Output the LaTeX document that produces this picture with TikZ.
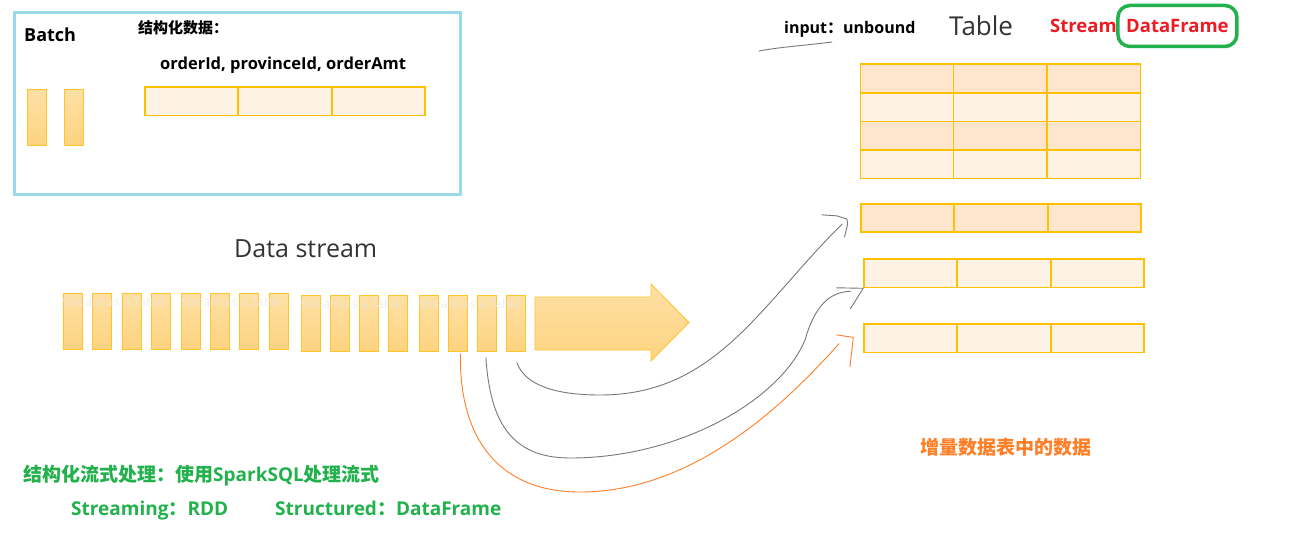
\documentclass[tikz,border=0pt]{standalone}
\usepackage{fontspec}
\setmainfont{Open Sans}
\newfontfamily\cjk{Noto Sans CJK SC}
\usetikzlibrary{calc}
\definecolor{batchblue}{RGB}{153,217,234}
\definecolor{bartop}{RGB}{254,224,165}
\definecolor{barbot}{RGB}{253,211,128}
\definecolor{barline}{RGB}{255,197,40}
\definecolor{tabline}{RGB}{255,192,0}
\definecolor{celldark}{RGB}{253,230,203}
\definecolor{celllight}{RGB}{254,242,228}
\definecolor{curvegray}{RGB}{120,120,120}
\definecolor{curveorange}{RGB}{255,127,39}
\definecolor{txtred}{RGB}{237,28,36}
\definecolor{txtgreen}{RGB}{34,177,76}
\definecolor{txtorange}{RGB}{255,127,39}
\newcommand\fsz[1]{\fontsize{#1}{#1}\selectfont}
\newcommand\rowdiv[1]{%
  \draw[tabline,line width=1.8pt] ($(#1.north west)!0.3333!(#1.north east)$) -- ($(#1.south west)!0.3333!(#1.south east)$);
  \draw[tabline,line width=1.8pt] ($(#1.north west)!0.6667!(#1.north east)$) -- ($(#1.south west)!0.6667!(#1.south east)$);}
\begin{document}
\begin{tikzpicture}[x=1pt,y=-1pt,
  bar/.style={draw=barline,line width=0.8pt,top color=bartop,bottom color=barbot,minimum width=19pt,minimum height=56pt,inner sep=0pt,anchor=north west},
  rowbox/.style={draw=tabline,line width=1.8pt,minimum width=280pt,minimum height=28.5pt,inner sep=0pt,anchor=north west},
  lbl/.style={inner sep=0pt,anchor=west},
  blbl/.style={inner sep=0pt,anchor=base west},
  ghosttxt/.style={inner sep=0pt,text=black!9,text opacity=0.7,font=\fsz{12.5}},
  gcurve/.style={draw=curvegray,line width=0.9pt,line join=round,line cap=round},
  ocurve/.style={draw=curveorange,line width=0.9pt,line join=round,line cap=round},
]
\useasboundingbox (0,0) rectangle (1308,535);
\fill[white] (0,0) rectangle (1308,535);

% Batch box
\node[draw=batchblue,line width=3pt,minimum width=446pt,minimum height=181pt,inner sep=0pt,anchor=north west] (batchbox) at (12.5,11.5) {};
\node[lbl,font=\bfseries\fsz{18}] (batch) at (24,35) {Batch};
\node[lbl,font=\cjk\bfseries\fsz{15}] (sdata) at (138,28) {结构化数据：};
\node[lbl,font=\bfseries\fsz{16.5}] (fields) at (160,65.5) {orderId, provinceId, orderAmt};
\node[rowbox,fill=celllight] (br) at (144,86) {};
\rowdiv{br}
\node[bar] (bb1) at (27.3,89.3) {};
\node[bar] (bb2) at (64,89.3) {};

% Data stream
\node[lbl,font=\fsz{25},text=black!80] (dstitle) at (234,249) {Data stream};
\foreach \i/\x in {1/62.5,2/92,3/121.5,4/150.6,5/181,6/210,7/239,8/268.5}
  \node[bar] (b\i) at (\x,293) {};
\foreach \i/\x in {9/300.6,10/330,11/359,12/388,13/418.6,14/448,15/477,16/506}
  \node[bar] (b\i) at (\x,295) {};
\draw[draw=barline,line width=0.8pt,top color=bartop,bottom color=barbot]
  (535,297) -- (651,297) -- (651,284) -- (689,322.5) -- (651,361) -- (651,350) -- (535,350) -- cycle;
\node[ghosttxt] (g1) at (113,302) {Stream as a Table};
\node[ghosttxt] (g2) at (231,302) {Stream as a Table};
\node[ghosttxt] (g3) at (351,303.5) {Stream as a Table};
\node[ghosttxt] (g4) at (469,303.5) {Stream as a Table};

% Top right titles
\draw[gcurve] (759,51) .. controls (780,47) and (800,46) .. (832,42);
\node[lbl,font=\bfseries\fsz{16}] (inp) at (784,29) {input{\cjk ：}unbound};
\node[lbl,font=\fsz{26},text=black!80] (tabletitle) at (949,26) {Table};
\node[lbl,font=\bfseries\fsz{18.5},text=txtred] (stream) at (1050,26) {Stream};
\node[draw=txtgreen,line width=3.5pt,rounded corners=12pt,minimum width=119pt,minimum height=41pt,font=\bfseries\fsz{18.5},text=txtred,inner sep=0pt] (df) at (1177.4,26) {DataFrame};

% Table
\node[rowbox,fill=celldark] (t1) at (859.5,63.5) {};
\node[rowbox,fill=celllight] (t2) at (859.5,92) {};
\node[rowbox,fill=celldark] (t3) at (859.5,120.5) {};
\node[rowbox,fill=celllight] (t4) at (859.5,149) {};
\rowdiv{t1}\rowdiv{t2}\rowdiv{t3}\rowdiv{t4}

% Incremental rows
\node[rowbox,fill=celldark] (rA) at (860.3,202.7) {};
\node[rowbox,fill=celllight] (rB) at (863.3,258) {};
\node[rowbox,fill=celllight] (rC) at (863.3,323) {};
\rowdiv{rA}\rowdiv{rB}\rowdiv{rC}
\node[lbl,font=\cjk\bfseries\fsz{19},text=txtorange] (inc) at (920,447) {增量数据表中的数据};

% Curves
\coordinate (c1s) at ($(b16.south)+(1,11)$);
\coordinate (c1e) at ($(rA.west)+(-18,6)$);
\draw[gcurve] (c1s) .. controls (525,385) and (555,395) .. (600,395) .. controls (716,395) and (760,305) .. (c1e);
\draw[gcurve] ($(c1e)+(-20.3,-9)$) -- ($(c1e)+(-5.3,-8)$) -- ($(c1e)+(4.7,-4.7)$) -- ($(c1e)+(5.3,0.3)$) -- ($(c1e)+(2.3,13)$);

\coordinate (c2s) at ($(b15.south)+(-1,6)$);
\coordinate (c2e) at ($(rB.south west)+(-13,3)$);
\draw[gcurve] (c2s) .. controls (490,420) and (510,458) .. (570,458) .. controls (680,458) and (780,400) .. (805,340) .. controls (815,305) and (830,292) .. (c2e);
\draw[gcurve] ($(rB.south west)+(-26.6,-0.5)$) -- (rB.south west) -- ($(rB.south west)+(-13,20.5)$);

\coordinate (c3s) at ($(b14.south)+(2.5,2)$);
\coordinate (c3e) at ($(rC.west)+(-24.3,5.5)$);
\draw[ocurve] (c3s) .. controls (459,440) and (500,492) .. (580,492) .. controls (690,492) and (780,410) .. (c3e);
\draw[ocurve] ($(c3e)+(-2.3,-8.7)$) -- ($(c3e)+(14.3,-6.3)$) -- ($(c3e)+(11,23)$);

% Bottom green text
\node[lbl,font=\bfseries\fsz{19},text=txtgreen] (sl1) at (23,476) {{\cjk 结构化流式处理：使用}SparkSQL{\cjk 处理流式}};
\node[blbl,font=\bfseries\fsz{19},text=txtgreen] (sl2) at (71,515.5) {Streaming{\cjk ：}RDD};
\node[blbl,font=\bfseries\fsz{19},text=txtgreen] (sl3) at (275,515.5) {Structured{\cjk ：}DataFrame};
\end{tikzpicture}
\end{document}
